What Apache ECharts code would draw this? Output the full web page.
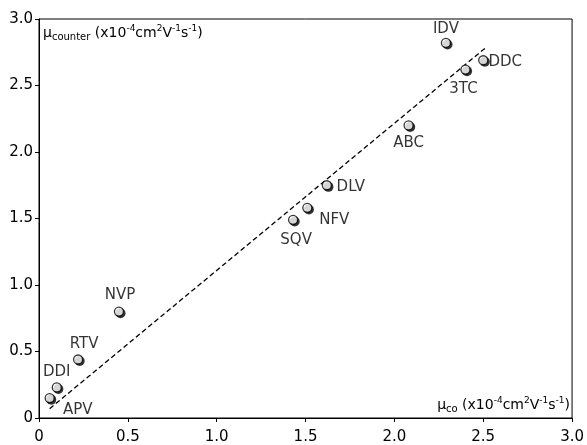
<!DOCTYPE html>
<html>
<head>
<meta charset="utf-8">
<script src="https://cdn.jsdelivr.net/npm/echarts@6/dist/echarts.min.js"></script>
<style>html,body{margin:0;padding:0;background:#fff}#c{width:587px;height:445px}</style>
</head>
<body>
<div id="c"></div>
<script>
// ---- data ----
const drugs   = ['APV', 'DDI', 'RTV', 'NVP', 'SQV', 'NFV', 'DLV', 'ABC', 'IDV', '3TC', 'DDC'];
const muCo      = [0.06, 0.10, 0.22, 0.45, 1.43, 1.51, 1.62, 2.08, 2.29, 2.40, 2.50];
const muCounter = [0.15, 0.23, 0.44, 0.80, 1.49, 1.58, 1.75, 2.20, 2.82, 2.62, 2.69];
const fitX = [0.06, 2.51];
const fitY = [0.07, 2.78];
const tickValues = [0, 0.5, 1.0, 1.5, 2.0, 2.5, 3.0];

// ---- label placement (pixel offsets from marker centre; styling only) ----
const labelOffset = {
  APV: [28, 12], DDI: [0, -15], RTV: [6, -15], NVP: [1, -16], SQV: [3, 20],
  NFV: [27, 12], DLV: [24, 2], ABC: [0, 18], IDV: [0, -14], '3TC': [-2, 20], DDC: [22, 2]
};

const FONT = 'DejaVu Sans';
const fmt = v => (v === 0 ? '0' : v.toFixed(1));

const pairs = drugs.map((d, i) => [muCo[i], muCounter[i]]);
const points = drugs.map((d, i) => ({
  name: d,
  value: pairs[i],
  label: { offset: labelOffset[d] }
}));

const chart = echarts.init(document.getElementById('c'), null, { renderer: 'canvas' });
const axisCommon = {
  min: 0, max: 3, interval: 0.5,
  axisLine: { show: true, onZero: false, lineStyle: { color: '#000', width: 1 } },
  axisTick: { show: true, inside: false, length: 4, lineStyle: { color: '#000', width: 1 } },
  splitLine: { show: false },
  axisLabel: { color: '#000', fontFamily: FONT, fontSize: 15, formatter: fmt }
};
const rich = {
  b:   { fontFamily: FONT, fontSize: 14, color: '#000', lineHeight: 18 },
  sub: { fontFamily: FONT, fontSize: 10, color: '#000', lineHeight: 10, verticalAlign: 'bottom' },
  sup: { fontFamily: FONT, fontSize: 9,  color: '#000', lineHeight: 9,  verticalAlign: 'top' }
};
chart.setOption({
  animation: false,
  backgroundColor: '#fff',
  grid: { left: 39, right: 11, top: 19, bottom: 26, show: true, borderColor: '#000', borderWidth: 1, containLabel: false },
  xAxis: Object.assign({ type: 'value' }, axisCommon, {
    axisLabel: Object.assign({}, axisCommon.axisLabel, { margin: 12 })
  }),
  yAxis: Object.assign({ type: 'value' }, axisCommon, {
    axisLabel: Object.assign({}, axisCommon.axisLabel, { margin: 6 })
  }),
  graphic: [
    { type: 'text', left: 43, top: 24, z: 10,
      style: { text: '{b|μ}{sub|counter}{b| (x10}{sup|-4}{b|cm}{sup|2}{b|V}{sup|-1}{b|s}{sup|-1}{b|)}', rich: rich } },
    { type: 'text', right: 17, top: 396, z: 10,
      style: { text: '{b|μ}{sub|co}{b| (x10}{sup|-4}{b|cm}{sup|2}{b|V}{sup|-1}{b|s}{sup|-1}{b|)}', rich: rich } }
  ],
  series: [
    {
      type: 'line',
      data: fitX.map((x, i) => [x, fitY[i]]),
      symbol: 'none',
      lineStyle: { color: '#000', width: 1.3, type: [5, 3] },
      z: 2
    },
    {
      // dark offset "shadow" disc under each marker
      type: 'scatter',
      data: pairs,
      symbol: 'circle',
      symbolSize: 10,
      symbolOffset: [1.6, 1.6],
      itemStyle: { color: '#000' },
      silent: true,
      z: 3
    },
    {
      type: 'scatter',
      data: points,
      symbol: 'circle',
      symbolSize: 9,
      itemStyle: { color: '#fff', borderColor: '#000', borderWidth: 1.3 },
      label: {
        show: true, position: 'inside', formatter: p => p.name,
        color: '#000', fontFamily: FONT, fontSize: 15, align: 'center', verticalAlign: 'middle'
      },
      emphasis: { disabled: true },
      z: 4
    }
  ]
});
</script>
</body>
</html>
